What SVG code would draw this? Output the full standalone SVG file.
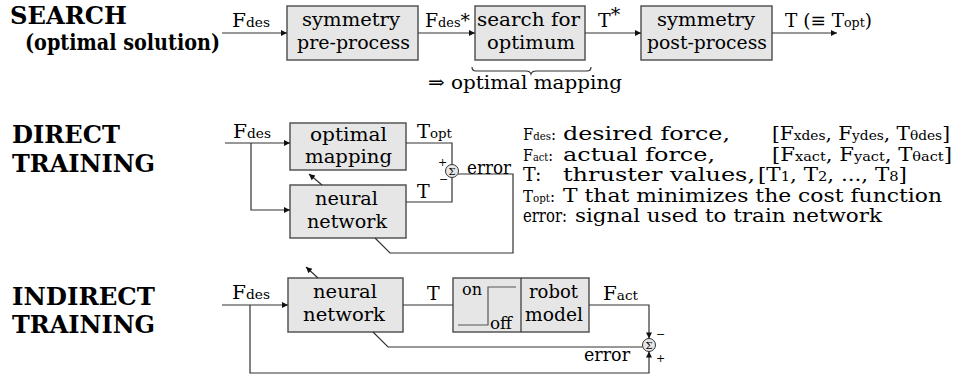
<svg xmlns="http://www.w3.org/2000/svg" width="962" height="377" viewBox="0 0 962 377" font-family="DejaVu Serif, Liberation Serif, serif">
<style>
.h{font-weight:bold;font-size:24px}
.t{font-size:19px}
.tc{font-size:19px;text-anchor:middle}
.s{font-size:13px}
.lg{font-size:16px}
.ls{font-size:11px}
.box{fill:#e6e6e6;stroke:#555;stroke-width:1.5}
.ln{fill:none;stroke:#333;stroke-width:1.2}
.sig{fill:#e6e6e6;stroke:#333;stroke-width:1}
.sg{font-size:10px;text-anchor:middle}
.pm{font-size:11px}
</style>
<defs>
<marker id="ah" viewBox="0 0 10 10" refX="10" refY="5" markerWidth="8" markerHeight="6" markerUnits="userSpaceOnUse" orient="auto">
<path d="M0,0 L10,5 L0,10 z" fill="#111"/>
</marker>
</defs>

<g id="headings">
<text class="h" x="10" y="24" textLength="117" lengthAdjust="spacingAndGlyphs">SEARCH</text>
<text class="h" x="25" y="50" style="font-size:22px" textLength="195" lengthAdjust="spacingAndGlyphs">(optimal solution)</text>
<text class="h" x="12" y="143" textLength="108" lengthAdjust="spacingAndGlyphs">DIRECT</text>
<text class="h" x="12" y="172" textLength="143" lengthAdjust="spacingAndGlyphs">TRAINING</text>
<text class="h" x="12" y="305" textLength="143" lengthAdjust="spacingAndGlyphs">INDIRECT</text>
<text class="h" x="12" y="333" textLength="143" lengthAdjust="spacingAndGlyphs">TRAINING</text>
</g>

<g id="sym-pre">
<rect class="box" x="287" y="6" width="131" height="54"/>
<text class="tc" x="351" y="26" textLength="98" lengthAdjust="spacingAndGlyphs">symmetry</text>
<text class="tc" x="353.5" y="49" textLength="113" lengthAdjust="spacingAndGlyphs">pre-process</text>
</g>
<g id="search-opt">
<rect class="box" x="475" y="6" width="110" height="54"/>
<text class="tc" x="528.5" y="26" textLength="103" lengthAdjust="spacingAndGlyphs">search for</text>
<text class="tc" x="531" y="49" textLength="88" lengthAdjust="spacingAndGlyphs">optimum</text>
</g>
<g id="sym-post">
<rect class="box" x="641" y="6" width="131" height="54"/>
<text class="tc" x="706" y="26" textLength="98" lengthAdjust="spacingAndGlyphs">symmetry</text>
<text class="tc" x="707" y="49" textLength="120" lengthAdjust="spacingAndGlyphs">post-process</text>
</g>
<g id="brace">
<path class="ln" d="M472,67 Q472,71 476,71 L526,71 Q530,71 531,74 Q532,71 536,71 L587,71 Q591,71 591,67"/>
<text class="t" x="428" y="89" textLength="194" lengthAdjust="spacingAndGlyphs">⇒ optimal mapping</text>
</g>

<g id="opt-map">
<rect class="box" x="290" y="123" width="116" height="47"/>
<text class="tc" x="348.5" y="141" textLength="77" lengthAdjust="spacingAndGlyphs">optimal</text>
<text class="tc" x="348.5" y="163" textLength="87" lengthAdjust="spacingAndGlyphs">mapping</text>
</g>
<g id="nn-direct">
<rect class="box" x="290" y="185" width="116" height="53"/>
<text class="tc" x="346.5" y="205" textLength="63" lengthAdjust="spacingAndGlyphs">neural</text>
<text class="tc" x="347" y="228" textLength="80" lengthAdjust="spacingAndGlyphs">network</text>
</g>
<g id="sum-direct">
<circle class="sig" cx="452" cy="171" r="6.5"/>
<text class="sg" x="452" y="174.5">Σ</text>
<text class="pm" x="438" y="166">+</text>
<text class="pm" x="439" y="183">−</text>
</g>

<g id="nn-indirect">
<rect class="box" x="288" y="278" width="115" height="54"/>
<text class="tc" x="345" y="298" textLength="64" lengthAdjust="spacingAndGlyphs">neural</text>
<text class="tc" x="344" y="321" textLength="82" lengthAdjust="spacingAndGlyphs">network</text>
</g>
<g id="onoff-robot">
<rect class="box" x="453" y="278" width="136" height="54"/>
<line x1="521" y1="278" x2="521" y2="332" stroke="#333" stroke-width="1.2"/>
<text x="462" y="295" style="font-size:16px" textLength="20" lengthAdjust="spacingAndGlyphs">on</text>
<path d="M458,325 L488,325 L488,287 L516,287" fill="none" stroke="#555" stroke-width="1.2"/>
<text x="490" y="329" style="font-size:16px" textLength="22" lengthAdjust="spacingAndGlyphs">off</text>
<text class="tc" x="553.5" y="298" textLength="49" lengthAdjust="spacingAndGlyphs">robot</text>
<text class="tc" x="554" y="321" textLength="58" lengthAdjust="spacingAndGlyphs">model</text>
</g>
<g id="sum-indirect">
<circle class="sig" cx="649" cy="345" r="6.5"/>
<text class="sg" x="649" y="348.5">Σ</text>
<text class="pm" x="656" y="338">−</text>
<text class="pm" x="656" y="362">+</text>
</g>

<g id="connectors">
<line class="ln" x1="222" y1="33" x2="287" y2="33" marker-end="url(#ah)"/>
<line class="ln" x1="418" y1="33" x2="475" y2="33" marker-end="url(#ah)"/>
<line class="ln" x1="585" y1="33" x2="641" y2="33" marker-end="url(#ah)"/>
<line class="ln" x1="772" y1="33" x2="837" y2="33" marker-end="url(#ah)"/>
<line class="ln" x1="225" y1="143" x2="290" y2="143" marker-end="url(#ah)"/>
<polyline class="ln" points="251,143 251,210 290,210" marker-end="url(#ah)"/>
<polyline class="ln" points="406,143 452,143 452,164.5"/>
<polyline class="ln" points="406,202 452,202 452,177.5"/>
<polyline class="ln" points="458,174 513,174 513,253 390,253 375,238"/>
<line class="ln" x1="322" y1="185" x2="309" y2="174" marker-end="url(#ah)"/>
<line class="ln" x1="222" y1="305" x2="288" y2="305" marker-end="url(#ah)"/>
<line class="ln" x1="403" y1="305" x2="453" y2="305"/>
<polyline class="ln" points="589,305 649,305 649,338.5" marker-end="url(#ah)"/>
<polyline class="ln" points="250,305 250,373 649,373 649,351.5" marker-end="url(#ah)"/>
<polyline class="ln" points="642.5,347 388,347 373,332"/>
<line class="ln" x1="318" y1="278" x2="306" y2="267" marker-end="url(#ah)"/>
</g>

<g id="labels">
<text class="t" x="232" y="27" textLength="38" lengthAdjust="spacingAndGlyphs">F<tspan class="s">des</tspan></text>
<text class="t" x="425" y="27" textLength="45" lengthAdjust="spacingAndGlyphs">F<tspan class="s">des</tspan>*</text>
<text class="t" x="598" y="27">T<tspan dy="-6">*</tspan></text>
<text class="t" x="785" y="27" textLength="87" lengthAdjust="spacingAndGlyphs">T (≡ T<tspan class="s">opt</tspan>)</text>
<text class="t" x="233" y="138" textLength="38" lengthAdjust="spacingAndGlyphs">F<tspan class="s">des</tspan></text>
<text class="t" x="417" y="138" textLength="35" lengthAdjust="spacingAndGlyphs">T<tspan class="s">opt</tspan></text>
<text class="t" x="417" y="198">T</text>
<text class="t" x="467" y="174" textLength="44" lengthAdjust="spacingAndGlyphs">error</text>
<text class="t" x="232" y="299" textLength="38" lengthAdjust="spacingAndGlyphs">F<tspan class="s">des</tspan></text>
<text class="t" x="427" y="300">T</text>
<text class="t" x="603" y="300" textLength="35" lengthAdjust="spacingAndGlyphs">F<tspan class="s">act</tspan></text>
<text class="t" x="584" y="361" textLength="46" lengthAdjust="spacingAndGlyphs">error</text>
</g>

<g id="legend">
<text class="lg" x="523" y="140" textLength="33" lengthAdjust="spacingAndGlyphs">F<tspan class="ls">des</tspan>:</text><text class="t" x="563" y="140" textLength="167" lengthAdjust="spacingAndGlyphs">desired force,</text><text class="t" x="772" y="140" textLength="178" lengthAdjust="spacingAndGlyphs">[F<tspan class="s">xdes</tspan>, F<tspan class="s">ydes</tspan>, T<tspan class="s">θdes</tspan>]</text>
<text class="lg" x="523" y="160.5" textLength="30" lengthAdjust="spacingAndGlyphs">F<tspan class="ls">act</tspan>:</text><text class="t" x="563" y="160.5" textLength="152" lengthAdjust="spacingAndGlyphs">actual force,</text><text class="t" x="772" y="160.5" textLength="180" lengthAdjust="spacingAndGlyphs">[F<tspan class="s">xact</tspan>, F<tspan class="s">yact</tspan>, T<tspan class="s">θact</tspan>]</text>
<text class="t" x="523" y="181">T:</text><text class="t" x="563" y="181" textLength="192" lengthAdjust="spacingAndGlyphs">thruster values,</text><text class="t" x="758" y="181" textLength="149" lengthAdjust="spacingAndGlyphs">[T<tspan class="s">1</tspan>, T<tspan class="s">2</tspan>, ..., T<tspan class="s">8</tspan>]</text>
<text class="lg" x="523" y="201.5" textLength="32" lengthAdjust="spacingAndGlyphs">T<tspan class="ls">opt</tspan>:</text><text class="t" x="563" y="201.5" textLength="379" lengthAdjust="spacingAndGlyphs">T that minimizes the cost function</text>
<text class="t" x="523" y="222" textLength="44" lengthAdjust="spacingAndGlyphs">error:</text><text class="t" x="575" y="222" textLength="307" lengthAdjust="spacingAndGlyphs">signal used to train network</text>
</g>
</svg>
